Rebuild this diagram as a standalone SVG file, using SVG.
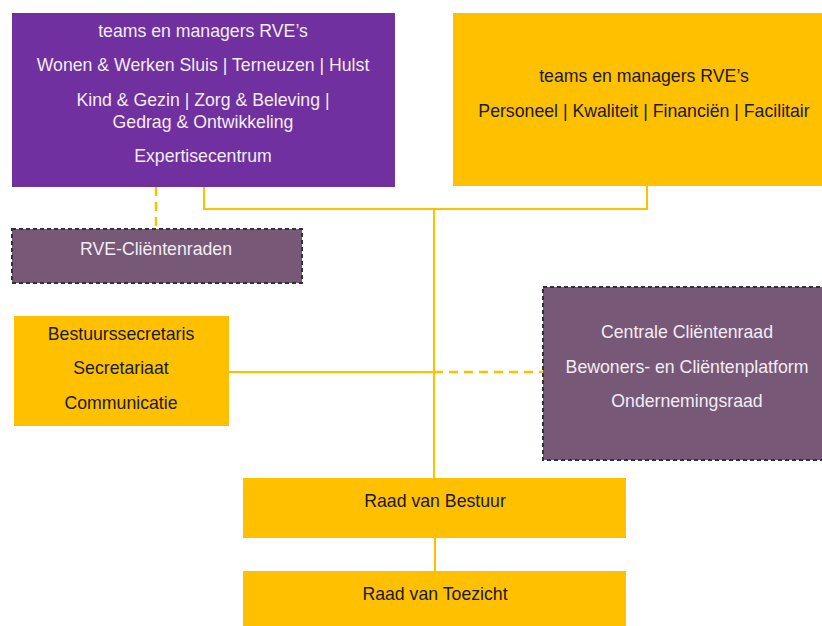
<svg xmlns="http://www.w3.org/2000/svg" width="822" height="626" viewBox="0 0 822 626">
<style>
text{font-family:"Liberation Sans",Arial,sans-serif;font-size:17.7px;text-anchor:middle}
.lt{fill:#f3ecf5}
.dk{fill:#1a1a1a}
.yel{fill:#ffc000}
.pur{fill:#7030a0}
.grp{fill:#775877;stroke:#333;stroke-width:2;stroke-dasharray:4 3}
.ln{stroke:#ffc000;stroke-width:2;fill:none}
.dash{stroke:#ffc000;stroke-width:2.5;fill:none;stroke-dasharray:9 6}
</style>
<rect width="822" height="626" fill="#fff"/>
<g id="connectors">
<path class="ln" d="M204 187V209H647V186"/>
<path class="ln" d="M434 209V478"/>
<path class="ln" d="M229 372H434"/>
<path class="dash" d="M434 372H543"/>
<path class="dash" d="M156 187V229"/>
<path class="ln" d="M435 538V571"/>
</g>
<g id="rve-zorg">
<rect class="pur" x="12" y="13" width="383" height="174"/>
<text class="lt" x="203" y="37">teams en managers RVE’s</text>
<text class="lt" x="203" y="71">Wonen &amp; Werken Sluis | Terneuzen | Hulst</text>
<text class="lt" x="203" y="106">Kind &amp; Gezin | Zorg &amp; Beleving |</text>
<text class="lt" x="203" y="128">Gedrag &amp; Ontwikkeling</text>
<text class="lt" x="203" y="162">Expertisecentrum</text>
</g>
<g id="rve-staf">
<rect class="yel" x="453" y="13" width="369" height="173"/>
<text class="dk" x="644" y="82">teams en managers RVE’s</text>
<text class="dk" x="644" y="117">Personeel | Kwaliteit | Financiën | Facilitair</text>
</g>
<g id="rve-clientenraden">
<rect class="grp" x="12" y="229" width="290" height="54"/>
<text class="lt" x="156" y="255">RVE-Cliëntenraden</text>
</g>
<g id="secretariaat">
<rect class="yel" x="14" y="316" width="215" height="110"/>
<text class="dk" x="121" y="340">Bestuurssecretaris</text>
<text class="dk" x="121" y="374">Secretariaat</text>
<text class="dk" x="121" y="409">Communicatie</text>
</g>
<g id="raden">
<rect class="grp" x="543" y="287" width="285" height="173"/>
<text class="lt" x="687" y="338">Centrale Cliëntenraad</text>
<text class="lt" x="687" y="373">Bewoners- en Cliëntenplatform</text>
<text class="lt" x="687" y="407">Ondernemingsraad</text>
</g>
<g id="raad-van-bestuur">
<rect class="yel" x="243" y="478" width="383" height="60"/>
<text class="dk" x="435" y="507">Raad van Bestuur</text>
</g>
<g id="raad-van-toezicht">
<rect class="yel" x="243" y="571" width="383" height="60"/>
<text class="dk" x="435" y="600">Raad van Toezicht</text>
</g>
</svg>
